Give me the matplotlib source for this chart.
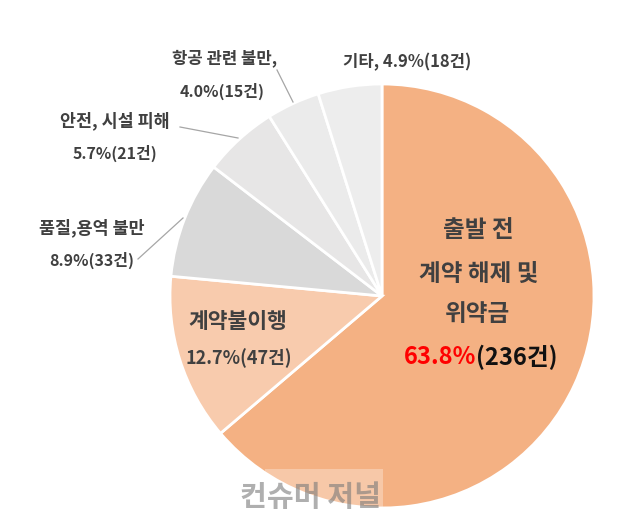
import matplotlib
matplotlib.use("Agg")
import matplotlib.pyplot as plt
from matplotlib.patches import Rectangle

plt.rcParams['font.family'] = ['Noto Sans CJK KR', 'DejaVu Sans']

categories = ['출발 전 계약 해제 및 위약금', '계약불이행', '품질,용역 불만',
              '안전, 시설 피해', '항공 관련 불만', '기타']
counts = [236, 47, 33, 21, 15, 18]
percents = ['63.8%', '12.7%', '8.9%', '5.7%', '4.0%', '4.9%']
colors = ['#F4B183', '#F8CBAD', '#D9D9D9', '#E7E6E6', '#EBEBEB', '#EDEDED']

W, H = 619, 531
fig = plt.figure(figsize=(W / 100, H / 100), dpi=100)
ax = fig.add_axes([0, 0, 1, 1])

cx, cy, r = 382, H - 296, 212
ax.pie(counts, colors=colors, startangle=90, counterclock=False,
       center=(cx, cy), radius=r, frame=True,
       wedgeprops=dict(edgecolor='white', linewidth=2))
ax.set_xlim(0, W)
ax.set_ylim(0, H)
ax.set_aspect('equal')
ax.axis('off')

tc = '#404040'
def T(x, y, s, size=12, color=tc, ha='center'):
    ax.text(x, H - y, s, fontsize=size, fontweight='bold', color=color,
            ha=ha, va='center')

# big slice
T(478, 230, '출발 전', 17)
T(479, 274, '계약 해제 및', 17)
T(478, 314, '위약금', 17)
ax.text(476, H - 357, percents[0], fontsize=17, fontweight='bold',
        color='#FF0000', ha='right', va='center')
ax.text(476, H - 357, f'({counts[0]}건)', fontsize=17, fontweight='bold',
        color='#111111', ha='left', va='center')

# 계약불이행
T(238, 322, categories[1], 15.5)
T(239, 358, f'{percents[1]}({counts[1]}건)', 13)

# 품질
T(92, 228, categories[2], 12.5)
T(92, 260, f'{percents[2]}({counts[2]}건)', 11.5)

# 안전
T(115, 121, categories[3], 12.5)
T(115, 153, f'{percents[3]}({counts[3]}건)', 11.5)

# 항공
T(225, 58, categories[4] + ',', 12)
T(222, 91, f'{percents[4]}({counts[4]}건)', 11.5)

# 기타
T(407, 62, f'{categories[5]}, {percents[5]}({counts[5]}건)', 12)

# leader lines
lc = '#A6A6A6'
for (x1, y1), (x2, y2) in [((138, 259), (183, 218)),
                           ((180, 127), (238, 138)),
                           ((277, 70), (293, 102))]:
    ax.plot([x1, x2], [H - y1, H - y2], color=lc, lw=0.9)

# watermark
ax.add_patch(Rectangle((265, H - 527), 118, 58, facecolor='white',
                       alpha=0.3, edgecolor='none'))
ax.text(310, H - 497, '컨슈머 저널', fontsize=21, fontweight='bold',
        color='#7a7a7a', alpha=0.6, ha='center', va='center', style='italic')

fig.savefig('out.png', dpi=100)
